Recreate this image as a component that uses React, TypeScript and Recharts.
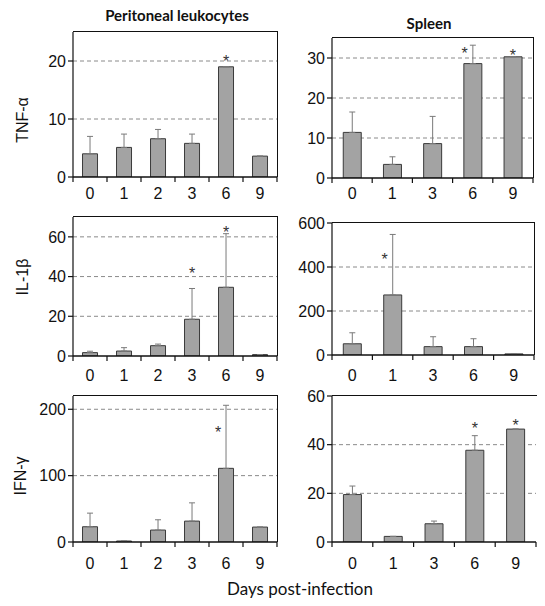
import React from 'react';
import { ComposedChart, Bar, ErrorBar, Scatter, XAxis, YAxis, CartesianGrid } from 'recharts';

// days sampled
const peritonealDays = ['0', '1', '2', '3', '6', '9'];
const spleenDays = ['0', '1', '3', '6', '9'];

// TNF-alpha
const tnfPeritoneal = [4.0, 5.1, 6.6, 5.8, 19.0, 3.6];
const tnfPeritonealErr = [3.0, 2.3, 1.6, 1.6, 0, 0];
const tnfPeritonealStar = [null, null, null, null, 20.5, null];
const tnfSpleen = [11.4, 3.4, 8.6, 28.6, 30.3];
const tnfSpleenErr = [5.1, 1.9, 6.8, 4.6, 0];
const tnfSpleenStar = [null, null, null, 31.9, 31.6];

// IL-1beta
const il1Peritoneal = [1.7, 2.5, 5.2, 18.5, 34.6, 0.7];
const il1PeritonealErr = [0.7, 1.7, 0.8, 15.5, 27, 0];
const il1PeritonealStar = [null, null, null, 43.5, 64, null];
const il1Spleen = [51, 273, 38, 38, 5];
const il1SpleenErr = [50, 275, 45, 36, 0];
const il1SpleenStar = [null, 450, null, null, null];

// IFN-gamma
const ifnPeritoneal = [23, 1.5, 18, 31.5, 111, 22.5];
const ifnPeritonealErr = [20.5, 0, 15.5, 27.5, 95, 0];
const ifnPeritonealStar = [null, null, null, null, 170, null];
const ifnSpleen = [19.5, 2.3, 7.5, 37.7, 46.4];
const ifnSpleenErr = [3.5, 0, 1.1, 6, 0];
const ifnSpleenStar = [null, null, null, 48, 49.5];

const ARIAL = '"Liberation Sans", Arial, sans-serif';
const CALIBRI = 'Lato, "Open Sans", sans-serif';

function buildRows(days: string[], values: number[], errs: number[], stars: (number | null)[]) {
  return days.map((day, i) => ({
    day,
    value: values[i],
    err: [0, errs[i]],
    top: values[i] + errs[i],
    star: stars[i],
  }));
}

// category label plus a tick mark on each category boundary
function DayTick(props: any) {
  const x = Number(props.x);
  const y = Number(props.y);
  const { payload, index, band, gap, count } = props;
  const lx = x - band / 2;
  const rx = x + band / 2;
  return (
    <g>
      <path d={`M${lx},${y}L${lx},${y + 5}`} stroke="#111" strokeWidth={1.2} fill="none" />
      {index === count - 1 && <path d={`M${rx},${y}L${rx},${y + 5}`} stroke="#111" strokeWidth={1.2} fill="none" />}
      <text x={x} y={y + gap} dy="0.35em" textAnchor="middle" fontSize={16} fill="#111" fontFamily={ARIAL}>
        {payload.value}
      </text>
    </g>
  );
}

function Star(props: any) {
  const { cx, cy, payload } = props;
  if (!payload || payload.star == null || !Number.isFinite(cy)) return null;
  // nudge the star aside when the error bar runs through it
  const dx = payload.top > payload.star ? -8 : 0;
  return (
    <text x={cx + dx} y={cy + 9} textAnchor="middle" fontSize={16} fill="#333" fontFamily={ARIAL}>
      *
    </text>
  );
}

interface PanelProps {
  rows: ReturnType<typeof buildRows>;
  left: number;
  top: number;
  width: number;
  height: number;
  domain: [number, number];
  ticks: number[];
  gap: number;
  rightBorder?: boolean;
}

function Panel({ rows, left, top, width, height, domain, ticks, gap, rightBorder = true }: PanelProps) {
  const YW = 60;
  const MT = 12;
  const MR = 10;
  const XH = 32;
  const band = width / rows.length;
  return (
    <div style={{ position: 'absolute', left: left - YW, top: top - MT }}>
      <ComposedChart
        width={YW + width + MR}
        height={MT + height + XH}
        data={rows}
        margin={{ top: MT, right: MR, bottom: 0, left: 0 }}
        barCategoryGap="28%"
      >
        <CartesianGrid
          vertical={false}
          stroke="#8a8a8a"
          strokeDasharray="4 3"
          horizontalValues={ticks.filter((t) => t > 0 && t < domain[1])}
        />
        <XAxis
          dataKey="day"
          height={XH}
          tickSize={0}
          tickMargin={0}
          tickLine={false}
          interval={0}
          stroke="#111"
          strokeWidth={1.3}
          tick={(p: any) => <DayTick {...p} band={band} gap={gap} count={rows.length} />}
        />
        <YAxis
          domain={domain}
          ticks={ticks}
          interval={0}
          width={YW}
          tickSize={5}
          stroke="#111"
          strokeWidth={1.2}
          allowDataOverflow
          tick={{ fontSize: 16, fill: '#111', fontFamily: ARIAL }}
        />
        <Bar dataKey="value" fill="#a3a3a3" stroke="#3a3a3a" strokeWidth={1} isAnimationActive={false}>
          <ErrorBar dataKey="err" direction="y" width={3} stroke="#7a7a7a" strokeWidth={1} />
        </Bar>
        <Scatter dataKey="star" shape={(p: any) => <Star {...p} />} isAnimationActive={false} />
      </ComposedChart>
      {/* plot frame: top edge, and right edge where the panel has one */}
      <div
        style={{
          position: 'absolute',
          left: YW,
          top: MT - 1,
          width: width + 1,
          height: height + 1,
          borderTop: '1.2px solid #111',
          borderRight: rightBorder ? '1.2px solid #111' : 'none',
          boxSizing: 'border-box',
          pointerEvents: 'none',
        }}
      />
    </div>
  );
}

export default function App() {
  return (
    <div style={{ position: 'absolute', left: 0, top: 0, width: 545, height: 606, background: '#fff' }}>
      <Panel rows={buildRows(peritonealDays, tnfPeritoneal, tnfPeritonealErr, tnfPeritonealStar)}
        left={73} top={32} width={204} height={145} domain={[0, 25]} ticks={[0, 10, 20]} gap={16} />
      <Panel rows={buildRows(spleenDays, tnfSpleen, tnfSpleenErr, tnfSpleenStar)}
        left={332} top={38} width={201} height={140} domain={[0, 35]} ticks={[0, 10, 20, 30]} gap={15} />
      <Panel rows={buildRows(peritonealDays, il1Peritoneal, il1PeritonealErr, il1PeritonealStar)}
        left={73} top={217} width={204} height={139} domain={[0, 70]} ticks={[0, 20, 40, 60]} gap={19} />
      <Panel rows={buildRows(spleenDays, il1Spleen, il1SpleenErr, il1SpleenStar)}
        left={332} top={223} width={202} height={132} domain={[0, 600]} ticks={[0, 200, 400, 600]} gap={20} />
      <Panel rows={buildRows(peritonealDays, ifnPeritoneal, ifnPeritonealErr, ifnPeritonealStar)}
        left={73} top={396} width={204} height={146} domain={[0, 220]} ticks={[0, 100, 200]} gap={21} />
      <Panel rows={buildRows(spleenDays, ifnSpleen, ifnSpleenErr, ifnSpleenStar)}
        left={332} top={396} width={204} height={146} domain={[0, 60]} ticks={[0, 20, 40, 60]} gap={21}
        rightBorder={false} />

      <svg width={545} height={606} style={{ position: 'absolute', left: 0, top: 0, pointerEvents: 'none' }}>
        <text x={177} y={15} dominantBaseline="central" textAnchor="middle" fontSize={15} fontWeight="bold" fontFamily={CALIBRI} fill="#111">
          Peritoneal leukocytes
        </text>
        <text x={429} y={23} dominantBaseline="central" textAnchor="middle" fontSize={15} fontWeight="bold" fontFamily={CALIBRI} fill="#111">
          Spleen
        </text>
        <text transform="translate(22,120) rotate(-90)" dominantBaseline="central" textAnchor="middle" fontSize={16} fontFamily={ARIAL} fill="#111">
          TNF-α
        </text>
        <text transform="translate(22,277) rotate(-90)" dominantBaseline="central" textAnchor="middle" fontSize={16} fontFamily={ARIAL} fill="#111">
          IL-1β
        </text>
        <text transform="translate(20,476) rotate(-90)" dominantBaseline="central" textAnchor="middle" fontSize={16} fontFamily={ARIAL} fill="#111">
          IFN-γ
        </text>
        <text x={300} y={588} dominantBaseline="central" textAnchor="middle" fontSize={17} fontFamily={CALIBRI} fill="#111">
          Days post-infection
        </text>
      </svg>
    </div>
  );
}
